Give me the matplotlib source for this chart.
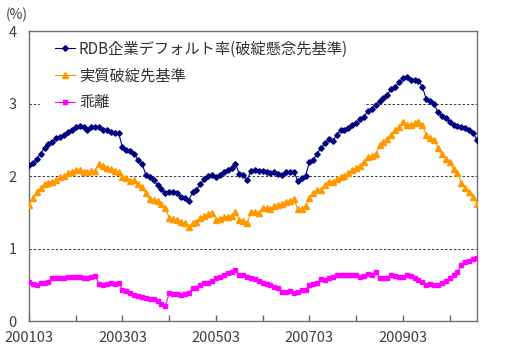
import matplotlib
matplotlib.use("Agg")
import matplotlib.pyplot as plt
import numpy as np

plt.rcParams['font.family'] = ['Noto Sans CJK JP', 'DejaVu Sans']

# monthly, 2001/03 - 2010/10
start_year, start_month = 2001, 3

# RDB企業デフォルト率(破綻懸念先基準)
rdb_rate = [
    2.15, 2.18, 2.23, 2.31, 2.39, 2.44, 2.47, 2.52, 2.54, 2.57, 2.61, 2.64,
    2.68, 2.69, 2.67, 2.63, 2.67, 2.68, 2.67, 2.64, 2.63, 2.61, 2.60, 2.59,
    2.40, 2.36, 2.34, 2.31, 2.22, 2.17, 2.02, 1.99, 1.94, 1.88, 1.82, 1.77,
    1.78, 1.78, 1.76, 1.71, 1.70, 1.66, 1.78, 1.81, 1.89, 1.96, 2.00, 2.01,
    1.98, 2.02, 2.05, 2.08, 2.11, 2.17, 2.03, 2.01, 1.95, 2.07, 2.08, 2.07,
    2.07, 2.06, 2.04, 2.05, 2.03, 2.01, 2.05, 2.06, 2.06, 1.93, 1.97, 2.00,
    2.19, 2.22, 2.31, 2.39, 2.45, 2.51, 2.48, 2.57, 2.63, 2.63, 2.66, 2.70,
    2.73, 2.78, 2.82, 2.90, 2.92, 2.98, 3.03, 3.08, 3.12, 3.20, 3.23, 3.29,
    3.35, 3.36, 3.33, 3.32, 3.31, 3.23, 3.06, 3.03, 2.99, 2.88, 2.83, 2.80,
    2.75, 2.70, 2.69, 2.68, 2.66, 2.63, 2.60, 2.50,
]

# 実質破綻先基準
real_rate = [
    1.60, 1.70, 1.78, 1.84, 1.89, 1.90, 1.92, 1.94, 1.98, 2.00, 2.04, 2.06,
    2.08, 2.08, 2.06, 2.05, 2.07, 2.07, 2.16, 2.14, 2.11, 2.10, 2.07, 2.05,
    1.99, 1.97, 1.93, 1.94, 1.89, 1.85, 1.76, 1.68, 1.67, 1.66, 1.61, 1.56,
    1.42, 1.41, 1.39, 1.37, 1.35, 1.30, 1.35, 1.37, 1.42, 1.45, 1.47, 1.49,
    1.40, 1.41, 1.43, 1.44, 1.45, 1.50, 1.39, 1.38, 1.35, 1.50, 1.51, 1.49,
    1.56, 1.56, 1.54, 1.59, 1.60, 1.61, 1.64, 1.66, 1.68, 1.54, 1.55, 1.59,
    1.70, 1.76, 1.81, 1.81, 1.88, 1.92, 1.92, 1.96, 1.98, 2.00, 2.04, 2.08,
    2.11, 2.14, 2.19, 2.26, 2.28, 2.30, 2.43, 2.47, 2.51, 2.57, 2.63, 2.67,
    2.75, 2.71, 2.70, 2.73, 2.74, 2.70, 2.57, 2.52, 2.50, 2.39, 2.30, 2.24,
    2.19, 2.10, 2.04, 1.91, 1.83, 1.78, 1.71, 1.62,
]

# 乖離
gap = [
    0.54, 0.51, 0.50, 0.52, 0.53, 0.54, 0.60, 0.60, 0.59, 0.60, 0.61, 0.61,
    0.61, 0.61, 0.59, 0.60, 0.61, 0.62, 0.51, 0.49, 0.51, 0.52, 0.51, 0.53,
    0.43, 0.41, 0.38, 0.36, 0.34, 0.33, 0.32, 0.31, 0.30, 0.27, 0.24, 0.21,
    0.38, 0.37, 0.37, 0.36, 0.37, 0.38, 0.45, 0.46, 0.49, 0.52, 0.53, 0.55,
    0.60, 0.61, 0.63, 0.66, 0.67, 0.70, 0.64, 0.63, 0.61, 0.59, 0.58, 0.55,
    0.52, 0.51, 0.50, 0.47, 0.45, 0.40, 0.40, 0.41, 0.38, 0.40, 0.43, 0.43,
    0.50, 0.51, 0.52, 0.58, 0.57, 0.59, 0.61, 0.63, 0.64, 0.63, 0.63, 0.63,
    0.63, 0.61, 0.62, 0.65, 0.63, 0.68, 0.60, 0.60, 0.60, 0.63, 0.62, 0.61,
    0.61, 0.63, 0.62, 0.60, 0.57, 0.54, 0.49, 0.51, 0.50, 0.49, 0.53, 0.55,
    0.59, 0.63, 0.68, 0.77, 0.81, 0.83, 0.85, 0.87,
]

labels = ['RDB企業デフォルト率(破綻懸念先基準)', '実質破綻先基準', '乖離']
colors = ['#000080', '#FF9900', '#FF00FF']
markers = ['D', '^', 's']

n = len(rdb_rate)
x = np.arange(n)
month_labels = []
for i in range(n):
    m = start_month + i
    month_labels.append('%d%02d' % (start_year + (m - 1) // 12, (m - 1) % 12 + 1))

fig = plt.figure(figsize=(5.05, 3.56), dpi=100)
ax = fig.add_axes([0.0574, 0.0983, 0.887, 0.8146])

# lines above the legend box (zorder 3), legend above the grid
ax.plot(x, rdb_rate, color=colors[0], marker=markers[0], markersize=2.8,
        linewidth=0.8, label=labels[0], zorder=3)
ax.plot(x, real_rate, color=colors[1], marker=markers[1], markersize=3.8,
        linewidth=0.8, label=labels[1], zorder=3)
ax.plot(x, gap, color=colors[2], marker=markers[2], markersize=3.2,
        linewidth=0.8, label=labels[2], zorder=3)

ax.set_xlim(0, n - 1)
ax.set_ylim(0, 4)
ax.set_yticks([0, 1, 2, 3, 4])

ticks = list(range(0, n, 12))
ax.set_xticks(ticks)
ax.set_xticklabels([month_labels[t] if t % 24 == 0 else '' for t in ticks])

ax.tick_params(axis='x', direction='in', length=4, width=1, color='#606060',
               labelsize=10.5, labelcolor='#404040', pad=7)
ax.tick_params(axis='y', length=0, labelsize=10.5, labelcolor='#404040', pad=9)

for s in ax.spines.values():
    s.set_color('#707070')
    s.set_linewidth(1)

ax.yaxis.grid(True, color='#333333', linestyle=(0, (2.5, 2)), linewidth=0.7)
ax.set_axisbelow(True)

fig.text(17 / 505, 1 - 15 / 356, '(%)', ha='center', va='center',
         fontsize=10, color='#404040')

# legend sits in a white box that hides part of the 3% grid line
leg = ax.legend(loc='upper left', bbox_to_anchor=(0.0246, 1.02), fontsize=11,
                frameon=True, fancybox=False, framealpha=1, edgecolor='white',
                handlelength=1.3, handletextpad=0.25, labelspacing=0.64,
                borderpad=1.0, borderaxespad=0)
leg.set_zorder(2.2)
for t in leg.get_texts():
    t.set_color('#333333')

fig.savefig('out.png', dpi=100)
